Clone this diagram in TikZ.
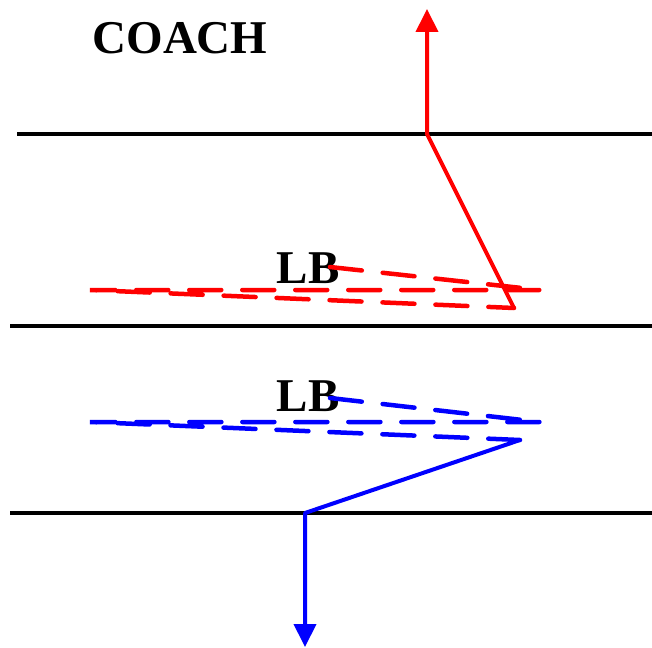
\documentclass[tikz,border=0pt]{standalone}
\usepackage{fontspec}
\setmainfont{Liberation Serif}
\usetikzlibrary{arrows.meta}
\tikzset{
    yard/.style={line width=4pt,black},
    route/.style={line width=4pt,line join=round},
    zone/.style={line width=4.5pt,dash pattern=on 32pt off 21pt,line cap=round},
    tag/.style={font=\fontsize{47}{50}\selectfont\bfseries,inner sep=0pt}
}
\begin{document}
\begin{tikzpicture}[x=1pt,y=-1pt]
    \useasboundingbox (0,0) rectangle (652,647);
    % Lines
        \foreach \y/\l in {134/17,326/10,513/10}{
            \coordinate (w\y) at (\l,\y);
            \coordinate (e\y) at (652,\y);
            \draw[yard] (w\y) -- (e\y);
        }
    % Labels
        \node[tag] (coach) at (180,38) {COACH};
        \node[tag] (lbtop) at (308,268) {LB};
        \node[tag] (lbbot) at (308,396) {LB};
    % Red drop
        \coordinate (r0) at (330,267);
        \coordinate (r1) at (540,290);
        \coordinate (r2) at (90,290);
        \coordinate (r3) at (514,308);
        \coordinate (r4) at (427,134);
        \coordinate (r5) at (427,9);
        \draw[zone,red] (r0) -- (r1) -- (r2) -- (r3);
        \draw[route,red,-{Triangle[length=23pt,width=22pt]}] (r3) -- (r4) -- (r5);
    % Blue drop
        \coordinate (b0) at (330,398);
        \coordinate (b1) at (540,422);
        \coordinate (b2) at (90,422);
        \coordinate (b3) at (520,440);
        \coordinate (b4) at (305,513);
        \coordinate (b5) at (305,647);
        \draw[zone,blue] (b0) -- (b1) -- (b2) -- (b3);
        \draw[route,blue,-{Triangle[length=23pt,width=22pt]}] (b3) -- (b4) -- (b5);
\end{tikzpicture}
\end{document}
